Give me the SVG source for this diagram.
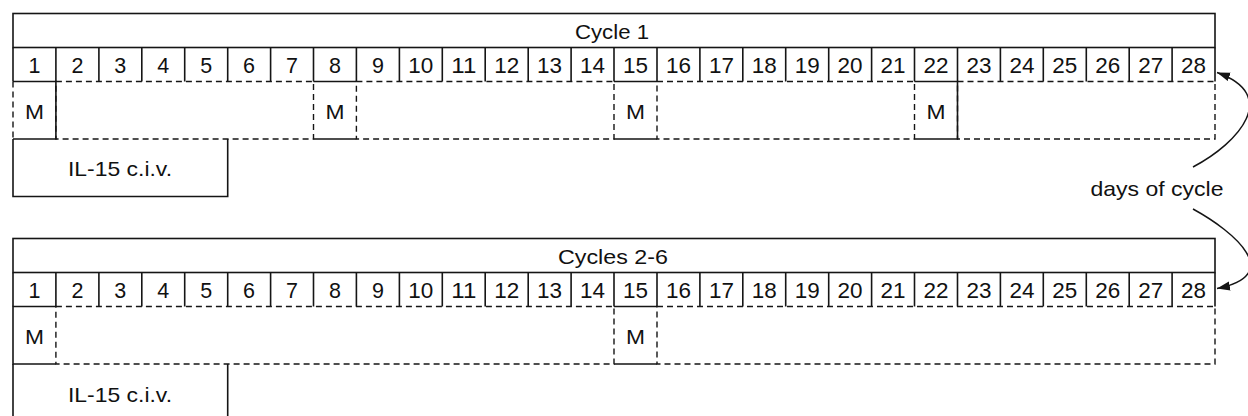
<svg xmlns="http://www.w3.org/2000/svg" width="1248" height="416" viewBox="0 0 1248 416">
  <style>
    .ln { fill: none; stroke: #151515; stroke-width: 1.6; }
    .dsh { fill: none; stroke: #151515; stroke-width: 1.4; stroke-dasharray: 6 4; }
    .lbl { font-family: "Liberation Sans", Arial, Helvetica, sans-serif; font-size: 21px; fill: #111; text-anchor: middle; }
    .day { font-size: 21.5px; }
    .conn { fill: none; stroke: #151515; stroke-width: 1.5; }
  </style>
  <defs>
    <marker id="arrowhead" markerUnits="userSpaceOnUse" markerWidth="14" markerHeight="10" refX="13" refY="5" orient="auto">
      <path d="M0,0.5 L13,5 L0,9.5 z" fill="#151515"/>
    </marker>
  </defs>
  <rect width="1248" height="416" fill="#ffffff"/>

  <!-- ===== Cycle 1 ===== -->
  <g id="cycle1">
    <g id="cycle1-header">
      <rect class="ln" x="13" y="13.5" width="1202" height="34"/>
      <text class="lbl" x="612" y="38.5" textLength="74" lengthAdjust="spacingAndGlyphs">Cycle 1</text>
    </g>
    <g id="cycle1-days">
      <path class="ln" d="M13,47.5 V81.5 M1215,47.5 V81.5
        M55.9,47.5 V81.5 M98.9,47.5 V81.5 M141.8,47.5 V81.5 M184.7,47.5 V81.5 M227.7,47.5 V81.5 M270.6,47.5 V81.5 M313.5,47.5 V81.5
        M356.4,47.5 V81.5 M399.4,47.5 V81.5 M442.3,47.5 V81.5 M485.2,47.5 V81.5 M528.2,47.5 V81.5 M571.1,47.5 V81.5 M614,47.5 V81.5
        M657,47.5 V81.5 M699.9,47.5 V81.5 M742.8,47.5 V81.5 M785.7,47.5 V81.5 M828.7,47.5 V81.5 M871.6,47.5 V81.5 M914.5,47.5 V81.5
        M957.5,47.5 V81.5 M1000.4,47.5 V81.5 M1043.3,47.5 V81.5 M1086.3,47.5 V81.5 M1129.2,47.5 V81.5 M1172.1,47.5 V81.5"/>
      <g class="lbl day">
        <text x="34.5" y="73">1</text><text x="77.4" y="73">2</text><text x="120.3" y="73">3</text><text x="163.3" y="73">4</text>
        <text x="206.2" y="73">5</text><text x="249.1" y="73">6</text><text x="292" y="73">7</text><text x="335" y="73">8</text>
        <text x="377.9" y="73">9</text><text x="420.8" y="73" textLength="25" lengthAdjust="spacingAndGlyphs">10</text><text x="463.8" y="73" textLength="25" lengthAdjust="spacingAndGlyphs">11</text><text x="506.7" y="73" textLength="25" lengthAdjust="spacingAndGlyphs">12</text>
        <text x="549.6" y="73" textLength="25" lengthAdjust="spacingAndGlyphs">13</text><text x="592.6" y="73" textLength="25" lengthAdjust="spacingAndGlyphs">14</text><text x="635.5" y="73" textLength="25" lengthAdjust="spacingAndGlyphs">15</text><text x="678.4" y="73" textLength="25" lengthAdjust="spacingAndGlyphs">16</text>
        <text x="721.4" y="73" textLength="25" lengthAdjust="spacingAndGlyphs">17</text><text x="764.3" y="73" textLength="25" lengthAdjust="spacingAndGlyphs">18</text><text x="807.2" y="73" textLength="25" lengthAdjust="spacingAndGlyphs">19</text><text x="850.1" y="73" textLength="25" lengthAdjust="spacingAndGlyphs">20</text>
        <text x="893.1" y="73" textLength="25" lengthAdjust="spacingAndGlyphs">21</text><text x="936" y="73" textLength="25" lengthAdjust="spacingAndGlyphs">22</text><text x="978.9" y="73" textLength="25" lengthAdjust="spacingAndGlyphs">23</text><text x="1021.9" y="73" textLength="25" lengthAdjust="spacingAndGlyphs">24</text>
        <text x="1064.8" y="73" textLength="25" lengthAdjust="spacingAndGlyphs">25</text><text x="1107.7" y="73" textLength="25" lengthAdjust="spacingAndGlyphs">26</text><text x="1150.7" y="73" textLength="25" lengthAdjust="spacingAndGlyphs">27</text><text x="1193.6" y="73" textLength="25" lengthAdjust="spacingAndGlyphs">28</text>
      </g>
    </g>
    <!-- rest days between doses -->
    <g id="cycle1-gaps">
      <rect class="dsh" x="55.9" y="81.5" width="257.6" height="57.5"/>
      <rect class="dsh" x="356.4" y="81.5" width="257.6" height="57.5"/>
      <rect class="dsh" x="657" y="81.5" width="257.5" height="57.5"/>
      <rect class="dsh" x="957.5" y="81.5" width="257.5" height="57.5"/>
    </g>
    <g id="cycle1-m1">
      <path class="ln" d="M13,81.5 H55.9 V139 H13"/>
      <path class="dsh" d="M13,81.5 V139"/>
      <text class="lbl" x="34.5" y="119" textLength="19" lengthAdjust="spacingAndGlyphs">M</text>
    </g>
    <g id="cycle1-m8">
      <path class="ln" d="M313.5,81.5 H356.4 M313.5,139 H356.4"/>
      <text class="lbl" x="335" y="119" textLength="19" lengthAdjust="spacingAndGlyphs">M</text>
    </g>
    <g id="cycle1-m15">
      <path class="ln" d="M614,81.5 H657 M614,139 H657"/>
      <text class="lbl" x="635.5" y="119" textLength="19" lengthAdjust="spacingAndGlyphs">M</text>
    </g>
    <g id="cycle1-m22">
      <path class="ln" d="M914.5,81.5 H957.5 V139 H914.5"/>
      <text class="lbl" x="936" y="119" textLength="19" lengthAdjust="spacingAndGlyphs">M</text>
    </g>
    <g id="cycle1-il15">
      <path class="ln" d="M13,139 V196.5 H227.7 V139"/>
      <text class="lbl" x="120" y="175.5" textLength="104" lengthAdjust="spacingAndGlyphs">IL-15 c.i.v.</text>
    </g>
  </g>

  <!-- ===== Cycles 2-6 ===== -->
  <g id="cycles2to6">
    <g id="cycles2to6-header">
      <rect class="ln" x="13" y="238.5" width="1202" height="34"/>
      <text class="lbl" x="613" y="263.5" textLength="110" lengthAdjust="spacingAndGlyphs">Cycles 2-6</text>
    </g>
    <g id="cycles2to6-days">
      <path class="ln" d="M13,272.5 V306.5 M1215,272.5 V306.5
        M55.9,272.5 V306.5 M98.9,272.5 V306.5 M141.8,272.5 V306.5 M184.7,272.5 V306.5 M227.7,272.5 V306.5 M270.6,272.5 V306.5 M313.5,272.5 V306.5
        M356.4,272.5 V306.5 M399.4,272.5 V306.5 M442.3,272.5 V306.5 M485.2,272.5 V306.5 M528.2,272.5 V306.5 M571.1,272.5 V306.5 M614,272.5 V306.5
        M657,272.5 V306.5 M699.9,272.5 V306.5 M742.8,272.5 V306.5 M785.7,272.5 V306.5 M828.7,272.5 V306.5 M871.6,272.5 V306.5 M914.5,272.5 V306.5
        M957.5,272.5 V306.5 M1000.4,272.5 V306.5 M1043.3,272.5 V306.5 M1086.3,272.5 V306.5 M1129.2,272.5 V306.5 M1172.1,272.5 V306.5"/>
      <g class="lbl day">
        <text x="34.5" y="298">1</text><text x="77.4" y="298">2</text><text x="120.3" y="298">3</text><text x="163.3" y="298">4</text>
        <text x="206.2" y="298">5</text><text x="249.1" y="298">6</text><text x="292" y="298">7</text><text x="335" y="298">8</text>
        <text x="377.9" y="298">9</text><text x="420.8" y="298" textLength="25" lengthAdjust="spacingAndGlyphs">10</text><text x="463.8" y="298" textLength="25" lengthAdjust="spacingAndGlyphs">11</text><text x="506.7" y="298" textLength="25" lengthAdjust="spacingAndGlyphs">12</text>
        <text x="549.6" y="298" textLength="25" lengthAdjust="spacingAndGlyphs">13</text><text x="592.6" y="298" textLength="25" lengthAdjust="spacingAndGlyphs">14</text><text x="635.5" y="298" textLength="25" lengthAdjust="spacingAndGlyphs">15</text><text x="678.4" y="298" textLength="25" lengthAdjust="spacingAndGlyphs">16</text>
        <text x="721.4" y="298" textLength="25" lengthAdjust="spacingAndGlyphs">17</text><text x="764.3" y="298" textLength="25" lengthAdjust="spacingAndGlyphs">18</text><text x="807.2" y="298" textLength="25" lengthAdjust="spacingAndGlyphs">19</text><text x="850.1" y="298" textLength="25" lengthAdjust="spacingAndGlyphs">20</text>
        <text x="893.1" y="298" textLength="25" lengthAdjust="spacingAndGlyphs">21</text><text x="936" y="298" textLength="25" lengthAdjust="spacingAndGlyphs">22</text><text x="978.9" y="298" textLength="25" lengthAdjust="spacingAndGlyphs">23</text><text x="1021.9" y="298" textLength="25" lengthAdjust="spacingAndGlyphs">24</text>
        <text x="1064.8" y="298" textLength="25" lengthAdjust="spacingAndGlyphs">25</text><text x="1107.7" y="298" textLength="25" lengthAdjust="spacingAndGlyphs">26</text><text x="1150.7" y="298" textLength="25" lengthAdjust="spacingAndGlyphs">27</text><text x="1193.6" y="298" textLength="25" lengthAdjust="spacingAndGlyphs">28</text>
      </g>
    </g>
    <g id="cycles2to6-gaps">
      <rect class="dsh" x="55.9" y="306.5" width="558.1" height="57.5"/>
      <rect class="dsh" x="657" y="306.5" width="558" height="57.5"/>
    </g>
    <g id="cycles2to6-m1">
      <path class="ln" d="M55.9,306.5 H13 V364 H55.9"/>
      <text class="lbl" x="34.5" y="344" textLength="19" lengthAdjust="spacingAndGlyphs">M</text>
    </g>
    <g id="cycles2to6-m15">
      <path class="ln" d="M614,306.5 H657 M614,364 H657"/>
      <text class="lbl" x="635.5" y="344" textLength="19" lengthAdjust="spacingAndGlyphs">M</text>
    </g>
    <g id="cycles2to6-il15">
      <path class="ln" d="M13,364 V424 M227.7,364 V424"/>
      <text class="lbl" x="120" y="402" textLength="104" lengthAdjust="spacingAndGlyphs">IL-15 c.i.v.</text>
    </g>
  </g>

  <!-- callout label -->
  <g id="days-of-cycle">
    <text class="lbl" x="1157" y="196" textLength="133" lengthAdjust="spacingAndGlyphs">days of cycle</text>
  </g>

  <!-- connectors from the callout to both day rows -->
  <g id="connectors">
    <path class="conn" d="M1193,167 C1240,142 1280,95 1217,72.5" marker-end="url(#arrowhead)"/>
    <path class="conn" d="M1193,209 C1235,232 1285,275 1217,288.5" marker-end="url(#arrowhead)"/>
  </g>
</svg>
